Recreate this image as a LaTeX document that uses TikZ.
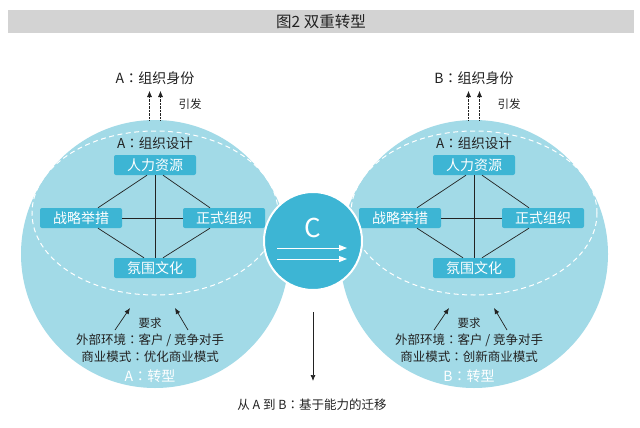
\documentclass[tikz,border=0pt]{standalone}
\usepackage{fontspec}
\setmainfont{Noto Sans CJK SC}
\newfontfamily\tcfont{Noto Sans CJK TC}
\usetikzlibrary{arrows.meta, positioning}
\definecolor{circfill}{HTML}{A2DAE7}
\definecolor{boxfill}{HTML}{3DB5D4}
\definecolor{titlegray}{HTML}{D3D3D3}
\definecolor{ink}{HTML}{222222}
\newcommand{\zhcolon}{{\tcfont ：}}
\newcommand{\fsz}[1]{\fontsize{#1}{#1}\selectfont}

\begin{document}
\begin{tikzpicture}[x=1pt, y=-1pt,
	stagebox/.style={fill=boxfill, text=white, rounded corners=2pt, minimum width=82pt, minimum height=20pt, inner sep=0pt, font=\fsz{14}},
	link/.style={ink, line width=0.7pt},
	tip/.style={-{Latex[length=6pt, width=5pt]}}]
	
	\useasboundingbox (0,0) rectangle (640,428);
	\fill[white] (0,0) rectangle (640,428);
	
	% title bar
	\fill[titlegray] (8,10) rectangle (634,33);
	\node[text=ink, font=\fsz{15.5}] (title) at (321,21.5) {图2 双重转型};
	
	\foreach \cx/\lab/\biz in {155/A/优化商业模式, 474/B/创新商业模式} {
		\fill[circfill] (\cx,254) circle (134pt);
		\draw[white, line width=1pt, dash pattern=on 5pt off 3.5pt] (\cx,213) ellipse (123pt and 82pt);
		
		\node[text=ink, font=\fsz{14}] (ident\lab) at (\cx,78) {\lab\zhcolon 组织身份};
		\coordinate (top\lab) at (\cx,120);
		\draw[ink, densely dotted, tip, shorten >=3pt] ([xshift=-5.5pt]top\lab) -- ([xshift=-5.5pt]ident\lab.south);
		\draw[ink, densely dotted, tip, shorten >=3pt] ([xshift=5.5pt]top\lab) -- ([xshift=5.5pt]ident\lab.south);
		\node[text=ink, font=\fsz{11.5}] (cause\lab) at ([xshift=35pt]\cx,104) {引发};
		
		\node[text=ink, font=\fsz{13.5}] (design\lab) at (\cx,143) {A\zhcolon 组织设计};
		\node[stagebox] (hr\lab) at (\cx,165) {人力资源};
		\node[stagebox] (zl\lab) at ([xshift=-74pt]\cx,218) {战略举措};
		\node[stagebox] (zs\lab) at ([xshift=69pt]\cx,218) {正式组织};
		\node[stagebox] (fw\lab) at (\cx,268) {氛围文化};
		
		\draw[link] (hr\lab.south) -- (fw\lab.north);
		\draw[link] (zl\lab.east) -- (zs\lab.west);
		\draw[link] ([xshift=-8pt]hr\lab.south) -- ([xshift=17pt]zl\lab.north);
		\draw[link] ([xshift=8pt]hr\lab.south) -- ([xshift=-14pt]zs\lab.north);
		\draw[link] ([xshift=17pt]zl\lab.south) -- ([xshift=-11pt]fw\lab.north);
		\draw[link] ([xshift=-14pt]zs\lab.south) -- ([xshift=8pt]fw\lab.north);
		
		\node[text=ink, font=\fsz{11.5}] (need\lab) at ([xshift=-5pt]\cx,323) {要求};
		\coordinate (needl\lab) at ([xshift=-40pt]\cx,330);
		\coordinate (needr\lab) at ([xshift=33pt]\cx,330);
		\draw[link, tip] (needl\lab) -- ++(15,-22);
		\draw[link, tip] (needr\lab) -- ++(-13,-22);
		\node[text=ink, font=\fsz{12.5}] (env\lab) at ([xshift=-5pt]\cx,340) {外部环境\zhcolon 客户 / 竞争对手};
		\node[text=ink, font=\fsz{12.5}] (biz\lab) at ([xshift=-5pt]\cx,357) {商业模式\zhcolon \biz};
		\node[text=white, font=\fsz{14}] (turn\lab) at ([xshift=-5pt]\cx,376) {\lab\zhcolon 转型};
	}
	
	% C in the middle
	\node[circle, fill=boxfill, draw=white, line width=2pt, minimum size=98pt, inner sep=0pt] (C) at (313,241) {};
	\node[text=white, font=\fsz{26}] (Cletter) at (313,228) {C};
	\draw[white, line width=1pt, -{Triangle[length=8pt, width=6pt]}] ([xshift=-36pt, yshift=-7pt]C.center) -- ([xshift=34pt, yshift=-7pt]C.center);
	\draw[white, line width=1pt, -{Triangle[length=8pt, width=6pt]}] ([xshift=-36pt, yshift=-18pt]C.center) -- ([xshift=34pt, yshift=-18pt]C.center);
	
	\node[text=ink, font=\fsz{12.5}] (move) at (312,405) {从 A 到 B\zhcolon 基于能力的迁移};
	\coordinate (movetop) at (313,312);
	\draw[link, tip] (movetop) -- (313,381);
\end{tikzpicture}
\end{document}
